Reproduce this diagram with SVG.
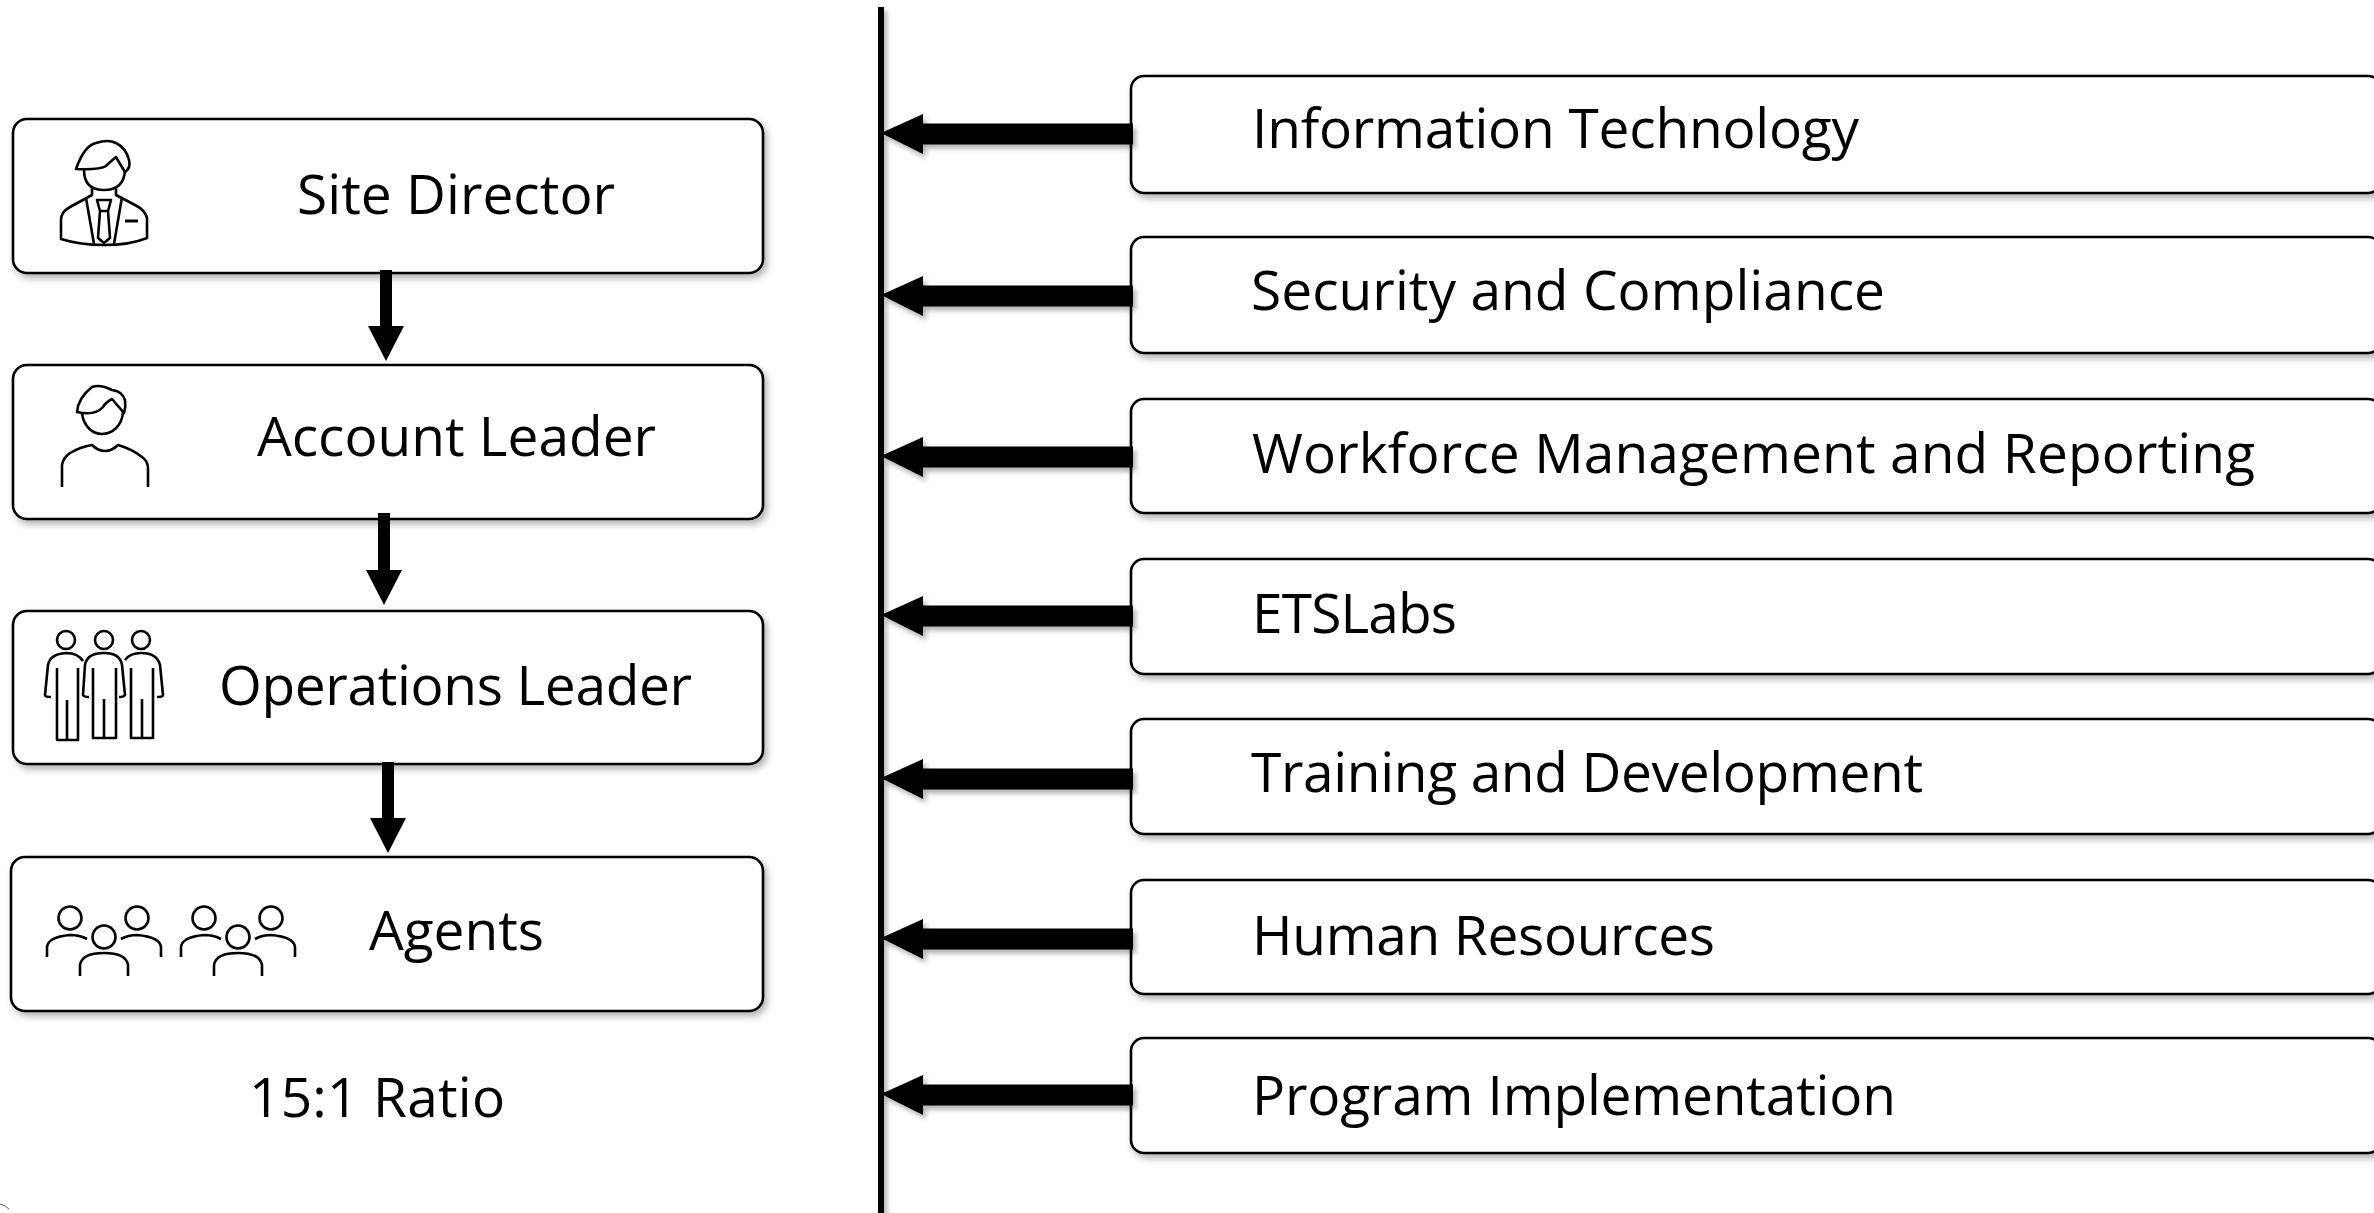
<svg xmlns="http://www.w3.org/2000/svg" xmlns:xlink="http://www.w3.org/1999/xlink" width="2374" height="1213" viewBox="0 0 2374 1213">
<defs>
<filter id="sh" x="-5%" y="-20%" width="110%" height="140%"><feDropShadow dx="3" dy="4" stdDeviation="3.5" flood-color="#000" flood-opacity="0.3"/></filter>
<filter id="sa" filterUnits="userSpaceOnUse" x="860" y="0" width="300" height="1213"><feDropShadow dx="3" dy="4" stdDeviation="2.5" flood-color="#000" flood-opacity="0.3"/></filter>
<path id="larrow" d="M1133,-10.5 H923 V-20 L881,-1 L923,20 V10.5 H1133 Z"/>
<g id="trio"><circle cx="70" cy="918" r="11.5"/><circle cx="137" cy="918" r="11.5"/><circle cx="104" cy="937" r="11.5"/><path d="M47,957 V947 Q48,937 70,935 Q80,935 87,939"/><path d="M121,939 Q128,935 137,935 Q160,937 161,947 V957"/><path d="M80,976 V965 Q82,953 104,953 Q126,953 128,965 V976"/></g>
</defs>
<style>
.box{fill:#fff;stroke:#000;stroke-width:2.6;filter:url(#sh)}
.t{font-family:"Open Sans","Noto Sans","Liberation Sans",sans-serif;font-size:55px;fill:#000}
.ic{fill:none;stroke:#000;stroke-width:2.6;stroke-linejoin:round}
</style>
<rect width="2374" height="1213" fill="#fff"/>
<g id="nodes">
<g id="site-director"><rect class="box" x="13" y="119" width="750" height="154" rx="14"/>
<g class="ic"><path d="M76,169 Q84,146 96,143 Q108,139 116,143 Q126,148 129,160 Q131,168 125,172 Q120,164 116,157 Q110,162 106,166 Q100,170 76,169 Z"/><path d="M84,170 Q84,190 104,190 Q124,190 125,170"/><path d="M92,187 V195 L70,207 Q61,212 61,220 V239 Q80,245 104,245 Q130,245 147,238 V218 Q145,210 135,205 L116,195 V187"/><path d="M86,198 L94,244 M122,197 L114,244"/><path d="M97,200 H111 L108,211 H100 Z M100,211 L98,238 L104,243 L110,238 L108,211"/><path d="M125,221 H138" stroke-width="3"/></g>
<text class="t" x="297" y="214" textLength="318">Site Director</text></g>
<g id="account-leader"><rect class="box" x="13" y="365" width="750" height="154" rx="14"/>
<g class="ic"><path d="M77,412 Q78,398 92,387 Q100,384 112,390 Q122,391 125,400 Q126,407 124,413 L112,399 Q106,402 103,407 Q95,416 77,412 Z"/><path d="M82,414 C84,426 92,434 102,434 C112,434 122,426 123,412"/><path d="M62,487 V465 Q63,458 70,453 Q80,447 92,445 Q98,451 105,451 Q112,451 118,445 Q132,449 142,457 Q148,461 148,468 V487"/></g>
<text class="t" x="257" y="456" textLength="399">Account Leader</text></g>
<g id="operations-leader"><rect class="box" x="13" y="611" width="750" height="153" rx="14"/>
<g class="ic"><circle cx="66" cy="640" r="9"/><circle cx="104" cy="640" r="9"/><circle cx="141" cy="640" r="9"/>
<path d="M83,661 Q78,653 66,653 Q50,654 48,665 L45,695 Q45,697 51,697"/><path d="M57,668 V740 H78 V668 M67,700 V740"/>
<path d="M89,697 Q84,697 83,695 L85,665 Q87,653 104,653 Q120,653 122,665 L125,695 Q124,697 119,697"/><path d="M93,668 V738 H116 V668 M104,699 V738"/>
<path d="M125,660 Q130,653 141,653 Q157,653 160,665 L163,695 Q163,697 157,697"/><path d="M131,668 V738 H153 V668 M142,699 V738"/></g>
<text class="t" x="219" y="705" textLength="473">Operations Leader</text></g>
<g id="agents"><rect class="box" x="11" y="857" width="752" height="154" rx="14"/>
<g class="ic"><use xlink:href="#trio"/><use xlink:href="#trio" x="134"/></g>
<text class="t" x="369" y="950" textLength="175">Agents</text></g>
<text id="ratio" class="t" x="249" y="1117" textLength="256">15:1 Ratio</text>
<g id="information-technology"><rect class="box" x="1131" y="76" width="1250" height="117" rx="13"/><text class="t" x="1252" y="148" textLength="607">Information Technology</text></g>
<g id="security-and-compliance"><rect class="box" x="1131" y="237" width="1250" height="116" rx="13"/><text class="t" x="1251" y="310" textLength="634">Security and Compliance</text></g>
<g id="workforce-management"><rect class="box" x="1131" y="399" width="1250" height="114" rx="13"/><text class="t" x="1252" y="473" textLength="1003">Workforce Management and Reporting</text></g>
<g id="etslabs"><rect class="box" x="1131" y="559" width="1250" height="115" rx="13"/><text class="t" x="1252" y="633" textLength="205">ETSLabs</text></g>
<g id="training-and-development"><rect class="box" x="1131" y="719" width="1250" height="115" rx="13"/><text class="t" x="1251" y="792" textLength="672">Training and Development</text></g>
<g id="human-resources"><rect class="box" x="1131" y="880" width="1250" height="114" rx="13"/><text class="t" x="1252" y="955" textLength="463">Human Resources</text></g>
<g id="program-implementation"><rect class="box" x="1131" y="1038" width="1250" height="115" rx="13"/><text class="t" x="1252" y="1115" textLength="644">Program Implementation</text></g>
</g>
<g id="connectors">
<path d="M380,270 H392 V326 H404 L386,361 L368,326 H380 Z"/>
<path d="M378,513 H390 V570 H402 L384,605 L366,570 H378 Z"/>
<path d="M382,762 H394 V818 H406 L388,853 L370,818 H382 Z"/>
<g filter="url(#sa)">
<rect x="878" y="7" width="6" height="1206"/>
<use xlink:href="#larrow" y="134"/><use xlink:href="#larrow" y="296"/><use xlink:href="#larrow" y="457"/><use xlink:href="#larrow" y="616"/><use xlink:href="#larrow" y="779"/><use xlink:href="#larrow" y="939"/><use xlink:href="#larrow" y="1095"/>
</g>
</g>
<path d="M0,1204 Q5,1205 9,1209" fill="none" stroke="#55557f" stroke-width="1"/>
</svg>
